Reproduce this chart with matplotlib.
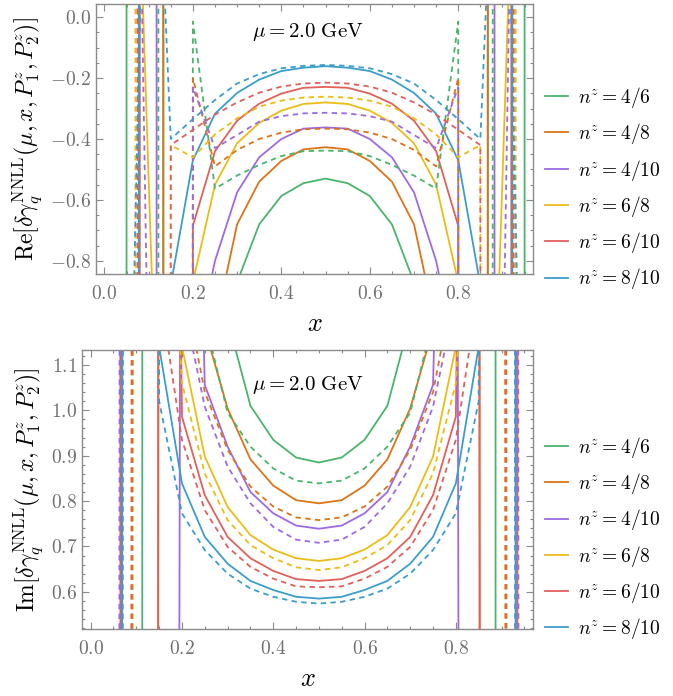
import numpy as np
import matplotlib
matplotlib.use("Agg")
import matplotlib.pyplot as plt
from matplotlib.ticker import MultipleLocator, FuncFormatter

plt.rcParams['mathtext.fontset'] = 'cm'
plt.rcParams['font.family'] = ['DejaVu Serif']

# ---------------- data ----------------
x_vals = [0.05, 0.10, 0.15, 0.20, 0.25, 0.30, 0.35, 0.40, 0.45, 0.50,
          0.55, 0.60, 0.65, 0.70, 0.75, 0.80, 0.85, 0.90, 0.95]

labels = ["$n^z = 4/6$", "$n^z = 4/8$", "$n^z = 4/10$",
          "$n^z = 6/8$", "$n^z = 6/10$", "$n^z = 8/10$"]
colors = ["#4ab46c", "#dc7417", "#9d6ae4", "#ebbd14", "#e0605a", "#3b9dcc"]

# Real part, solid (NNLL)
re_solid_46 = [-0.95, 1000, -515, -3.0, -1.5, -0.87, -0.68, -0.587, -0.545, -0.53,
               -0.545, -0.587, -0.68, -0.87, -1.5, -3.0, -515, 1000, -0.95]
re_solid_48 = [3, 600, -300, -3, -1.02, -0.68, -0.54, -0.472, -0.434, -0.427,
               -0.434, -0.472, -0.54, -0.68, -1.02, -3, -300, 600, 3]
re_solid_410 = [2, 360, -640, -1.15, -0.80, -0.575, -0.46, -0.40, -0.366, -0.362,
                -0.366, -0.40, -0.46, -0.575, -0.80, -1.15, -640, 360, 2]
re_solid_68 = [1.68, -0.53, -2.73, -0.87, -0.55, -0.414, -0.347, -0.307, -0.285, -0.28,
               -0.285, -0.307, -0.347, -0.414, -0.55, -0.87, -2.73, -0.53, 1.68]
re_solid_610 = [600, -400, -500, -0.685, -0.44, -0.34, -0.284, -0.251, -0.232, -0.229,
                -0.232, -0.251, -0.284, -0.34, -0.44, -0.685, -500, -400, 600]
re_solid_810 = [500, -400, -0.88, -0.47, -0.317, -0.249, -0.205, -0.177, -0.166, -0.161,
                -0.166, -0.177, -0.205, -0.249, -0.317, -0.47, -0.88, -400, 500]

# Real part, dashed
re_dash_46 = [-260, 240, -305, -0.015, -0.563, -0.52, -0.485, -0.456, -0.44, -0.438,
              -0.44, -0.456, -0.485, -0.52, -0.563, -0.015, -305, 240, -260]
re_dash_48 = [300, -300, -500, -0.2, -0.49, -0.436, -0.40, -0.379, -0.368, -0.366,
              -0.368, -0.379, -0.40, -0.436, -0.49, -0.2, -500, -300, 300]
re_dash_410 = [3.16, -1.29, -400, -0.23, -0.43, -0.387, -0.343, -0.325, -0.316, -0.314,
               -0.316, -0.325, -0.343, -0.387, -0.43, -0.23, -400, -1.29, 3.16]
re_dash_68 = [200, -300, -0.42, -0.46, -0.385, -0.332, -0.294, -0.274, -0.264, -0.261,
              -0.264, -0.274, -0.294, -0.332, -0.385, -0.46, -0.42, -300, 200]
re_dash_610 = [300, -300, -0.42, -0.37, -0.32, -0.28, -0.248, -0.228, -0.218, -0.215,
               -0.218, -0.228, -0.248, -0.28, -0.32, -0.37, -0.42, -300, 300]
re_dash_810 = [-2.0, 1.3, -0.40, -0.335, -0.272, -0.218, -0.187, -0.168, -0.16, -0.157,
               -0.16, -0.168, -0.187, -0.218, -0.272, -0.335, -0.40, 1.3, -2.0]

# Imaginary part, solid
im_solid_46 = [-60, -140, 400, 2.5, 1.6, 1.2, 1.01, 0.935, 0.896, 0.885,
               0.896, 0.935, 1.01, 1.2, 1.6, 2.5, 400, -140, -60]
im_solid_48 = [-50, -100, 5, 2.0, 1.18, 1.004, 0.892, 0.834, 0.802, 0.795,
               0.802, 0.834, 0.892, 1.004, 1.18, 2.0, 5, -100, -50]
im_solid_410 = [30, -50, -19, 3, 1.056, 0.92, 0.82, 0.773, 0.746, 0.739,
                0.746, 0.773, 0.82, 0.92, 1.056, 3, -19, -50, 30]
im_solid_68 = [10, 20, 4, 1.14, 0.898, 0.787, 0.725, 0.693, 0.674, 0.668,
               0.674, 0.693, 0.725, 0.787, 0.898, 1.14, 4, 20, 10]
im_solid_610 = [44, -100, 5, 0.986, 0.813, 0.721, 0.674, 0.646, 0.628, 0.624,
                0.628, 0.646, 0.674, 0.721, 0.813, 0.986, 5, -100, 44]
im_solid_810 = [-30, 50, 1.14, 0.839, 0.721, 0.662, 0.624, 0.604, 0.589, 0.585,
                0.589, 0.604, 0.624, 0.662, 0.721, 0.839, 1.14, 50, -30]

# Imaginary part, dashed
im_dash_46 = [20, 30, 8, 2, 1.2, 0.995, 0.92, 0.872, 0.845, 0.839,
              0.845, 0.872, 0.92, 0.995, 1.2, 2, 8, 30, 20]
im_dash_48 = [-40, 12, 3, 1.3, 1.04, 0.913, 0.832, 0.788, 0.764, 0.758,
              0.764, 0.788, 0.832, 0.913, 1.04, 1.3, 3, 12, -40]
im_dash_410 = [-20, 60, 20, 1.25, 1.008, 0.876, 0.795, 0.743, 0.715, 0.708,
               0.715, 0.743, 0.795, 0.876, 1.008, 1.25, 20, 60, -20]
im_dash_68 = [-40, 8, 2, 1.06, 0.861, 0.758, 0.703, 0.674, 0.654, 0.648,
              0.654, 0.674, 0.703, 0.758, 0.861, 1.06, 2, 8, -40]
im_dash_610 = [-40, 10, 1.27, 0.935, 0.78, 0.699, 0.655, 0.629, 0.612, 0.61,
               0.612, 0.629, 0.655, 0.699, 0.78, 0.935, 1.27, 10, -40]
im_dash_810 = [-30, 45, 1.02, 0.773, 0.692, 0.64, 0.607, 0.589, 0.578, 0.574,
               0.578, 0.589, 0.607, 0.64, 0.692, 0.773, 1.02, 45, -30]

re_solid = [re_solid_46, re_solid_48, re_solid_410, re_solid_68, re_solid_610, re_solid_810]
re_dash = [re_dash_46, re_dash_48, re_dash_410, re_dash_68, re_dash_610, re_dash_810]
im_solid = [im_solid_46, im_solid_48, im_solid_410, im_solid_68, im_solid_610, im_solid_810]
im_dash = [im_dash_46, im_dash_48, im_dash_410, im_dash_68, im_dash_610, im_dash_810]

# ---------------- figure ----------------
fig = plt.figure(figsize=(6.73, 6.96), dpi=100)
ax1 = fig.add_axes([96 / 673, 1 - 274 / 696, 437 / 673, 270 / 696])
ax2 = fig.add_axes([82 / 673, 1 - 629 / 696, 451 / 673, 279 / 696])

frame_col = "#8a8a8a"
tick_col = "#707070"
fmt = FuncFormatter(lambda v, p: "$%.1f$" % v if abs(v) > 1e-9 else "$0.0$")


def style(ax, ylim, ymaj, ymin):
    ax.set_xlim(-0.019, 0.969)
    ax.set_ylim(*ylim)
    ax.xaxis.set_major_locator(MultipleLocator(0.2))
    ax.xaxis.set_minor_locator(MultipleLocator(0.05))
    ax.yaxis.set_major_locator(MultipleLocator(ymaj))
    ax.yaxis.set_minor_locator(MultipleLocator(ymin))
    ax.xaxis.set_major_formatter(fmt)
    ax.yaxis.set_major_formatter(fmt)
    ax.tick_params(which="both", direction="in", top=True, right=True,
                   color=frame_col, labelcolor=tick_col, labelsize=14, width=0.8)
    ax.tick_params(which="major", length=5)
    ax.tick_params(which="minor", length=2.5)
    ax.tick_params(axis="x", pad=8)
    for sp in ax.spines.values():
        sp.set_color(frame_col)
        sp.set_linewidth(1.0)
    ax.set_xlabel("$x$", fontsize=19, labelpad=6)


def draw(ax, solids, dashes):
    handles = []
    for i in range(6):
        h, = ax.plot(x_vals, solids[i], color=colors[i], lw=1.3, label=labels[i])
        handles.append(h)
    for i in range(6):
        ax.plot(x_vals, dashes[i], color=colors[i], lw=1.3, ls=(0, (3.0, 2.4)))
    return handles


h1 = draw(ax1, re_solid, re_dash)
style(ax1, (-0.843, 0.043), 0.2, 0.05)
ax1.set_ylabel(r"$\mathrm{Re}[\delta\gamma_q^{\mathrm{NNLL}}(\mu, x, P_1^z, P_2^z)]$",
               fontsize=17, labelpad=4)
ax1.text(0.485, 0.895, r"$\mu = 2.0\ \mathrm{GeV}$", transform=ax1.transAxes,
         ha="center", va="center", fontsize=15)
ax1.legend(handles=h1, loc="center left", bbox_to_anchor=(1.0, 0.318),
           frameon=False, fontsize=14, handlelength=1.2, handletextpad=0.5,
           labelspacing=0.58, borderpad=0, borderaxespad=0.6)

h2 = draw(ax2, im_solid, im_dash)
style(ax2, (0.518, 1.133), 0.1, 0.02)
ax2.set_ylabel(r"$\mathrm{Im}[\delta\gamma_q^{\mathrm{NNLL}}(\mu, x, P_1^z, P_2^z)]$",
               fontsize=17, labelpad=4)
ax2.text(0.5, 0.875, r"$\mu = 2.0\ \mathrm{GeV}$", transform=ax2.transAxes,
         ha="center", va="center", fontsize=15)
ax2.legend(handles=h2, loc="center left", bbox_to_anchor=(1.0, 0.326),
           frameon=False, fontsize=14, handlelength=1.2, handletextpad=0.5,
           labelspacing=0.58, borderpad=0, borderaxespad=0.6)

fig.savefig("out.png", dpi=100)
